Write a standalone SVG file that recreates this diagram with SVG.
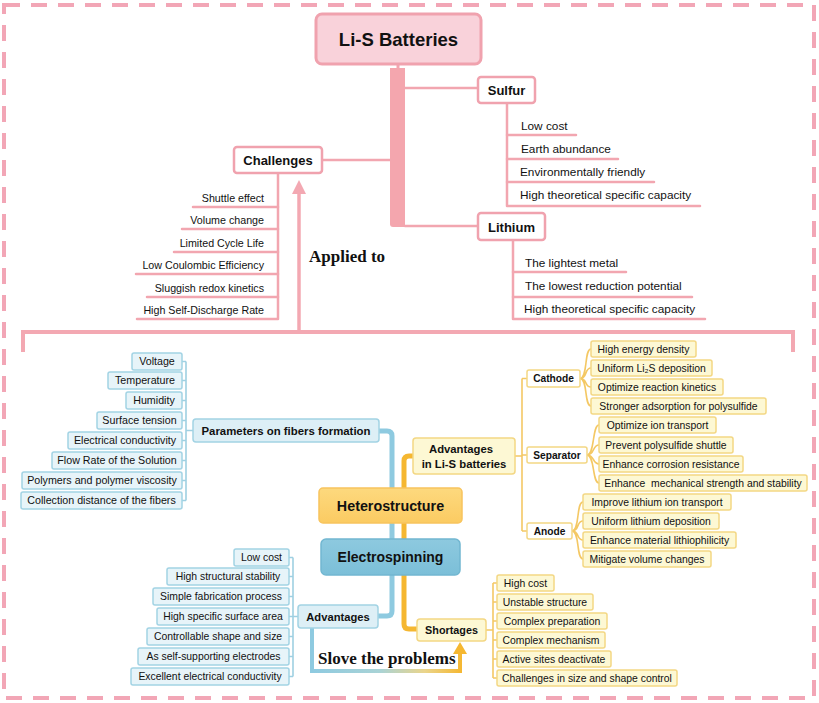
<svg xmlns="http://www.w3.org/2000/svg" width="819" height="703" viewBox="0 0 819 703">
<defs>
<style>
text{font-family:"Liberation Sans",Arial,sans-serif;fill:#111}
.b{font-weight:bold}
.c{text-anchor:middle}
.r{text-anchor:end}
.pk{fill:none;stroke:#f2a6b0;stroke-width:2.5;stroke-linecap:round;stroke-linejoin:round}
.pkbox{fill:#fff;stroke:#f0a2ae;stroke-width:2.5}
.bl{fill:none;stroke:#9fd0e2;stroke-width:1.6}
.blbox{fill:#e7f4f9;stroke:#a2d3e4;stroke-width:1.5}
.yl{fill:none;stroke:#f4c864;stroke-width:1.6}
.ylbox{fill:#fdf8d4;stroke:#f3d784;stroke-width:1.5}
.wybox{fill:#fff;stroke:#f3d784;stroke-width:1.5}
.s1{font-size:11.8px}
.s2{font-size:10.7px}
.s3{font-size:10.4px}
.serif{font-family:"Liberation Serif","Times New Roman",serif;font-weight:bold;font-size:17px}
</style>
<linearGradient id="gslove" gradientUnits="userSpaceOnUse" x1="312" y1="0" x2="462" y2="0">
<stop offset="0" stop-color="#8ecae0"/>
<stop offset="0.45" stop-color="#a9d3d6"/>
<stop offset="0.75" stop-color="#ead58c"/>
<stop offset="1" stop-color="#f5b731"/>
</linearGradient>
<linearGradient id="ghet" x1="0" y1="0" x2="0" y2="1">
<stop offset="0" stop-color="#fdd97e"/>
<stop offset="1" stop-color="#fbcb62"/>
</linearGradient>
<linearGradient id="gele" x1="0" y1="0" x2="0" y2="1">
<stop offset="0" stop-color="#8dc9df"/>
<stop offset="1" stop-color="#7bbfd8"/>
</linearGradient>
</defs>

<rect x="4" y="5" width="810" height="693" fill="#fff" stroke="#f2a6b6" stroke-width="4" stroke-dasharray="16 11"/>

<g id="connectors">
  <!-- pink top structure -->
  <line x1="398" y1="64" x2="398" y2="70" stroke="#f2a6b0" stroke-width="3"/>
  <path d="M390,68 H405 V227 H393 Q390,227 390,224 Z" fill="#f4a6ae"/>
  <path class="pk" d="M405,88 H478"/>
  <path class="pk" d="M405,226 H478"/>
  <path class="pk" d="M322,160 H390"/>
  <!-- sulfur children -->
  <path class="pk" d="M507,103 V206 H700"/>
  <path class="pk" d="M507,135 H576"/>
  <path class="pk" d="M507,159 H618"/>
  <path class="pk" d="M507,182 H654"/>
  <!-- lithium children -->
  <path class="pk" d="M513,240 V319 H705"/>
  <path class="pk" d="M513,272 H626"/>
  <path class="pk" d="M513,297 H692"/>
  <!-- challenges children -->
  <path class="pk" d="M278,173 V319 H137"/>
  <path class="pk" d="M278,207 H193"/>
  <path class="pk" d="M278,229 H182"/>
  <path class="pk" d="M278,252 H174"/>
  <path class="pk" d="M278,274 H136"/>
  <path class="pk" d="M278,297 H147"/>
  <!-- main horizontal -->
  <path d="M23,352 V332 H793 V352" fill="none" stroke="#f3a8b2" stroke-width="4"/>
  <line x1="299" y1="332" x2="299" y2="192" stroke="#f3a8b2" stroke-width="3.5"/>
  <polygon points="299,180 292,194 306,194" fill="#f3a8b2"/>

  <!-- blue / orange main -->
  <path d="M379,431 H387 Q392,431 392,436 V545" fill="none" stroke="#8ecae0" stroke-width="5"/>
  <path d="M413,456 H409 Q404,456 404,461 V624 Q404,629 409,629 H417" fill="none" stroke="#f5b731" stroke-width="5"/>
  <path d="M392,570 V611 Q392,616 387,616 H378" fill="none" stroke="#8ecae0" stroke-width="5"/>

  <!-- slove the problems -->
  <path d="M312,628 V671 H460 V652" fill="none" stroke="url(#gslove)" stroke-width="4"/>
  <polygon points="460,642 453,654 467,654" fill="#f5b731"/>

  <!-- blue param bracket -->
  <path class="bl" d="M186,361.5 V500.5 M182,361.5 H186 M182,380.5 H186 M182,400.5 H186 M182,420.5 H186 M182,440.5 H186 M182,460.5 H186 M182,480.5 H186 M182,500.5 H186 M186,430.5 H193"/>
  <!-- blue advantages bracket -->
  <path class="bl" d="M293,557.5 V676.5 M289,557.5 H293 M289,576.5 H293 M289,596.5 H293 M289,616.5 H293 M289,636.5 H293 M289,656.5 H293 M289,676.5 H293 M293,616.5 H298"/>
  <!-- Li-S advantages bracket -->
  <path class="yl" d="M515,456 H522 M522,378.5 V531 M522,378.5 H527 M522,455 H527 M522,531 H527"/>
  <!-- cathode curves -->
  <path class="yl" d="M580,378.5 C588,378.5 584,349 591,349 M580,378.5 C588,378.5 584,368 591,368 M580,378.5 C588,378.5 584,387 591,387 M580,378.5 C588,378.5 584,406 591,406"/>
  <!-- separator curves -->
  <path class="yl" d="M587,455 C595,455 592,425 599,425 M587,455 C595,455 592,445 599,445 M587,455 C595,455 592,464 599,464 M587,455 C595,455 592,483 599,483"/>
  <!-- anode curves -->
  <path class="yl" d="M572,531 C580,531 576,502 583,502 M572,531 C580,531 576,521 583,521 M572,531 C580,531 576,540 583,540 M572,531 C580,531 576,559 583,559"/>
  <!-- shortages bracket -->
  <path class="yl" d="M486,630 H493 M493,583 V678 M493,583 H497 M493,602 H497 M493,621 H497 M493,640 H497 M493,659 H497 M493,678 H497"/>
</g>

<g id="li-s-batteries">
  <rect x="316" y="14" width="165" height="50" rx="6" fill="#f9d2da" stroke="#f0a2ae" stroke-width="3"/>
  <text class="b c" x="398.5" y="46" font-size="18.5">Li-S Batteries</text>
</g>
<g id="sulfur">
  <rect class="pkbox" x="478" y="77" width="57" height="26" rx="3"/>
  <text class="b c" x="506.5" y="95" font-size="13">Sulfur</text>
</g>
<g id="sulfur-items">
  <text class="s1" x="521" y="130">Low cost</text>
  <text class="s1" x="521" y="153">Earth abundance</text>
  <text class="s1" x="520" y="176">Environmentally friendly</text>
  <text class="s1" x="520" y="199">High theoretical specific capacity</text>
</g>
<g id="lithium">
  <rect class="pkbox" x="478" y="213" width="67" height="27" rx="3"/>
  <text class="b c" x="511.5" y="231.5" font-size="13">Lithium</text>
</g>
<g id="lithium-items">
  <text class="s1" x="525" y="267">The lightest metal</text>
  <text class="s1" x="525" y="290">The lowest reduction potential</text>
  <text class="s1" x="524" y="313">High theoretical specific capacity</text>
</g>
<g id="challenges">
  <rect class="pkbox" x="234" y="147" width="88" height="26" rx="3"/>
  <text class="b c" x="278" y="165" font-size="13">Challenges</text>
</g>
<g id="challenges-items">
  <text class="s2 r" x="264" y="202">Shuttle effect</text>
  <text class="s2 r" x="264" y="224">Volume change</text>
  <text class="s2 r" x="264" y="246.5">Limited Cycle Life</text>
  <text class="s2 r" x="264" y="269">Low Coulombic Efficiency</text>
  <text class="s2 r" x="264" y="291.5">Sluggish redox kinetics</text>
  <text class="s2 r" x="264" y="314">High Self-Discharge Rate</text>
</g>
<g id="applied-to"><text class="serif" x="309" y="262">Applied to</text></g>

<g id="parameters">
  <rect x="193" y="419" width="186" height="23" rx="3" fill="#ddeff6" stroke="#a2d3e4" stroke-width="1.5"/>
  <text class="b c" x="286" y="434.5" font-size="11.4">Parameters on fibers formation</text>
</g>
<g id="parameter-items">
  <rect class="blbox" x="132" y="353" width="50" height="17" rx="2"/><text class="s2 c" x="157" y="365.3">Voltage</text>
  <rect class="blbox" x="108" y="372" width="74" height="17" rx="2"/><text class="s2 c" x="145" y="384.3">Temperature</text>
  <rect class="blbox" x="126" y="392" width="56" height="17" rx="2"/><text class="s2 c" x="154" y="404.3">Humidity</text>
  <rect class="blbox" x="97" y="412" width="85" height="17" rx="2"/><text class="s2 c" x="139.5" y="424.3">Surface tension</text>
  <rect class="blbox" x="68" y="432" width="114" height="17" rx="2"/><text class="s2 c" x="125" y="444.3">Electrical conductivity</text>
  <rect class="blbox" x="52" y="452" width="130" height="17" rx="2"/><text class="s2 c" x="117" y="464.3">Flow Rate of the Solution</text>
  <rect class="blbox" x="22" y="472" width="160" height="17" rx="2"/><text class="s2 c" x="102" y="484.3">Polymers and polymer viscosity</text>
  <rect class="blbox" x="21" y="492" width="161" height="17" rx="2"/><text class="s2 c" x="101.5" y="504.3">Collection distance of the fibers</text>
</g>

<g id="heterostructure">
  <rect x="319" y="488" width="143" height="35" rx="4" fill="url(#ghet)" stroke="#f8c45e" stroke-width="1.5"/>
  <text class="b c" x="390.5" y="511" font-size="14.3">Heterostructure</text>
</g>
<g id="electrospinning">
  <rect x="321" y="539" width="139" height="36" rx="5" fill="url(#gele)" stroke="#72b7d1" stroke-width="1.5"/>
  <text class="b c" x="390.5" y="562" font-size="14">Electrospinning</text>
</g>

<g id="advantages-lis">
  <rect class="ylbox" x="413" y="438" width="102" height="36" rx="3"/>
  <text class="b c" x="461" y="453" font-size="11.3">Advantages</text>
  <text class="b c" x="464" y="467.5" font-size="11.3">in Li-S batteries</text>
</g>
<g id="cathode">
  <rect class="wybox" x="527" y="370" width="53" height="17" rx="2"/>
  <text class="b c" x="553.5" y="382" font-size="10.2">Cathode</text>
</g>
<g id="separator">
  <rect class="wybox" x="527" y="447" width="60" height="16" rx="2"/>
  <text class="b c" x="557" y="458.7" font-size="10.2">Separator</text>
</g>
<g id="anode">
  <rect class="wybox" x="527" y="523" width="45" height="16" rx="2"/>
  <text class="b c" x="549.5" y="534.7" font-size="10.2">Anode</text>
</g>
<g id="cathode-items">
  <rect class="ylbox" x="591" y="341" width="105" height="16" rx="2"/><text class="s3 c" x="643.5" y="352.7">High energy density</text>
  <rect class="ylbox" x="591" y="360" width="121" height="16" rx="2"/><text class="s3 c" x="651.5" y="371.7">Uniform Li₂S deposition</text>
  <rect class="ylbox" x="591" y="379" width="132" height="16" rx="2"/><text class="s3 c" x="657" y="390.7">Optimize reaction kinetics</text>
  <rect class="ylbox" x="591" y="398" width="175" height="16" rx="2"/><text class="s3 c" x="678.5" y="409.7">Stronger adsorption for polysulfide</text>
</g>
<g id="separator-items">
  <rect class="ylbox" x="599" y="417" width="117" height="16" rx="2"/><text class="s3 c" x="657.5" y="428.7">Optimize ion transport</text>
  <rect class="ylbox" x="599" y="437" width="134" height="16" rx="2"/><text class="s3 c" x="666" y="448.7">Prevent polysulfide shuttle</text>
  <rect class="ylbox" x="599" y="456" width="144" height="16" rx="2"/><text class="s3 c" x="671" y="467.7">Enhance corrosion resistance</text>
  <rect class="ylbox" x="599" y="475" width="208" height="16" rx="2"/><text class="s3 c" x="703" y="486.7" xml:space="preserve">Enhance  mechanical strength and stability</text>
</g>
<g id="anode-items">
  <rect class="ylbox" x="583" y="494" width="148" height="16" rx="2"/><text class="s3 c" x="657" y="505.7">Improve lithium ion transport</text>
  <rect class="ylbox" x="583" y="513" width="136" height="16" rx="2"/><text class="s3 c" x="651" y="524.7">Uniform lithium deposition</text>
  <rect class="ylbox" x="583" y="532" width="153" height="16" rx="2"/><text class="s3 c" x="659.5" y="543.7">Enhance material lithiophilicity</text>
  <rect class="ylbox" x="583" y="551" width="128" height="16" rx="2"/><text class="s3 c" x="647" y="562.7">Mitigate volume changes</text>
</g>

<g id="advantages">
  <rect x="298" y="605" width="80" height="23" rx="3" fill="#ddeff6" stroke="#a2d3e4" stroke-width="1.5"/>
  <text class="b c" x="338" y="620.5" font-size="11.2">Advantages</text>
</g>
<g id="advantages-items">
  <rect class="blbox" x="234" y="549" width="55" height="17" rx="2"/><text class="s3 c" x="261.5" y="561.3">Low cost</text>
  <rect class="blbox" x="167" y="568" width="122" height="17" rx="2"/><text class="s3 c" x="228" y="580.3">High structural stability</text>
  <rect class="blbox" x="153" y="588" width="136" height="17" rx="2"/><text class="s3 c" x="221" y="600.3">Simple fabrication process</text>
  <rect class="blbox" x="157" y="608" width="132" height="17" rx="2"/><text class="s3 c" x="223" y="620.3">High specific surface area</text>
  <rect class="blbox" x="147" y="628" width="142" height="17" rx="2"/><text class="s3 c" x="218" y="640.3">Controllable shape and size</text>
  <rect class="blbox" x="138" y="648" width="151" height="17" rx="2"/><text class="s3 c" x="213.5" y="660.3">As self-supporting electrodes</text>
  <rect class="blbox" x="131" y="668" width="158" height="17" rx="2"/><text class="s3 c" x="210" y="680.3">Excellent electrical conductivity</text>
</g>

<g id="shortages">
  <rect class="ylbox" x="417" y="619" width="69" height="22" rx="3"/>
  <text class="b c" x="451.5" y="634" font-size="10.8">Shortages</text>
</g>
<g id="shortages-items">
  <rect class="ylbox" x="497" y="575" width="57" height="16" rx="2"/><text class="s3 c" x="525.5" y="586.7">High cost</text>
  <rect class="ylbox" x="497" y="594" width="96" height="16" rx="2"/><text class="s3 c" x="545" y="605.7">Unstable structure</text>
  <rect class="ylbox" x="497" y="613" width="110" height="16" rx="2"/><text class="s3 c" x="552" y="624.7">Complex preparation</text>
  <rect class="ylbox" x="497" y="632" width="108" height="16" rx="2"/><text class="s3 c" x="551" y="643.7">Complex mechanism</text>
  <rect class="ylbox" x="497" y="651" width="114" height="16" rx="2"/><text class="s3 c" x="554" y="662.7">Active sites deactivate</text>
  <rect class="ylbox" x="497" y="670" width="180" height="16" rx="2"/><text class="s3 c" x="587" y="681.7">Challenges in size and shape control</text>
</g>
<g id="slove"><text class="serif" x="318" y="664">Slove the problems</text></g>
</svg>
